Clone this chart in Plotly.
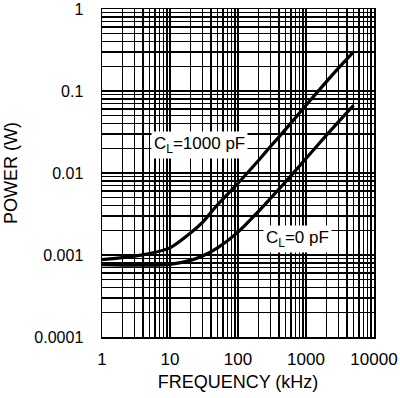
import plotly.graph_objects as go
import math

freq_khz = [1, 2, 3, 5, 10, 20, 30, 50, 100, 200, 300, 500, 1000, 2000, 3000, 5000]
power_1000pf = [0.00088, 0.00093, 0.00097, 0.00104, 0.00122, 0.00185, 0.0025, 0.0041, 0.0075,
                0.0142, 0.021, 0.034, 0.067, 0.130, 0.190, 0.30]
power_0pf = [0.00076, 0.00075, 0.00075, 0.00075, 0.00077, 0.00086, 0.00097, 0.00122, 0.0019,
             0.0034, 0.0049, 0.0078, 0.0150, 0.029, 0.042, 0.067]

x_tickvals = [1, 10, 100, 1000, 10000]
x_ticktext = ["1", "10", "100", "1000", "10000"]
y_tickvals = [0.0001, 0.001, 0.01, 0.1, 1]
y_ticktext = ["0.0001", "0.001", "0.01", "0.1", "1"]

label_1000 = "C<sub>L</sub>=1000 pF"
label_0 = "C<sub>L</sub>=0 pF"
label_1000_pos = (27.6, 0.0219)
label_0_pos = (762, 0.00157)

FONT = "Liberation Sans, Arial, sans-serif"

fig = go.Figure()
for vals in (power_1000pf, power_0pf):
    fig.add_trace(go.Scatter(x=freq_khz, y=vals, mode="lines",
                             line=dict(color="black", width=3.2, shape="spline", smoothing=0.6),
                             showlegend=False, hoverinfo="skip"))

grid = dict(showgrid=True, gridcolor="black", gridwidth=1.4)
minor = dict(dtick="D1", showgrid=True, gridcolor="black", gridwidth=1.4, ticks="")
fig.update_xaxes(type="log", range=[0, 4], tickvals=x_tickvals, ticktext=x_ticktext,
                 showline=True, mirror=True, linecolor="black", linewidth=1.5,
                 ticks="", ticklabelstandoff=6,
                 tickfont=dict(family=FONT, size=17, color="black"),
                 title=dict(text="FREQUENCY (kHz)", font=dict(family=FONT, size=18, color="black"), standoff=7),
                 minor=minor, **grid)
fig.update_yaxes(type="log", range=[-4, 0], tickvals=y_tickvals, ticktext=y_ticktext,
                 showline=True, mirror=True, linecolor="black", linewidth=1.5,
                 ticks="", ticklabelstandoff=14,
                 tickfont=dict(family=FONT, size=16, color="black"),
                 title=dict(text="POWER (W)", font=dict(family=FONT, size=18, color="black"), standoff=12),
                 minor=minor, **grid)

for text, (ax_, ay_) in ((label_1000, label_1000_pos), (label_0, label_0_pos)):
    fig.add_annotation(x=math.log10(ax_), y=math.log10(ay_), xref="x", yref="y", text=text,
                       showarrow=False, bgcolor="white", borderpad=2,
                       font=dict(family=FONT, size=17, color="black"))

fig.update_layout(width=400, height=398, margin=dict(l=102, r=26, t=9, b=61, autoexpand=False),
                  paper_bgcolor="white", plot_bgcolor="white")

fig.write_html("out.html", config={"displayModeBar": False, "staticPlot": True},
               post_script="document.body.style.margin='0';document.body.style.overflow='hidden';")
